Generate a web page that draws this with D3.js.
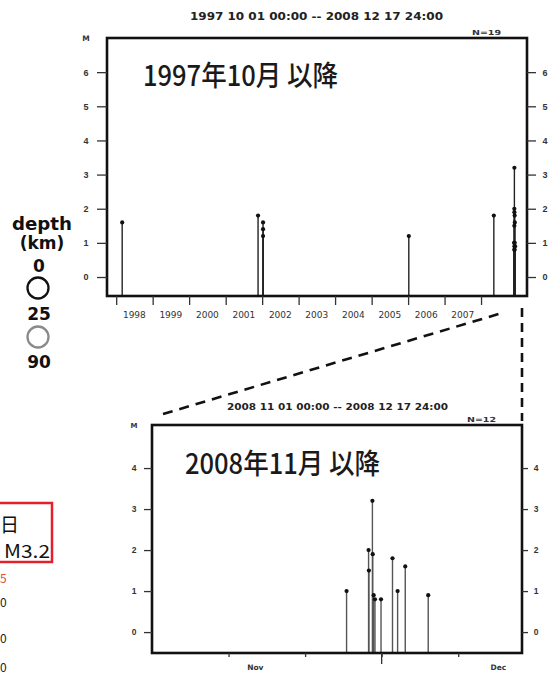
<!DOCTYPE html>
<html><head><meta charset="utf-8">
<script src="https://cdn.jsdelivr.net/npm/d3@7"></script>
<style>
html,body{margin:0;padding:0;background:#fff;}
svg{display:block;font-family:"DejaVu Sans",sans-serif;}
</style></head><body>
<svg id="chart" width="557" height="679"></svg>
<script>
/* M-T diagrams: events since 1997-10 (top) and the Nov-Dec 2008 swarm (bottom).
   Stems rise from the frame bottom to each event's magnitude. */
const earlyDates = ["1998-03-02 00:00","2001-11-21 00:00","2002-01-10 00:00","2002-01-10 00:00","2002-01-10 00:00","2006-01-08 00:00","2008-05-08 00:00"];
const earlyMags  = [1.6, 1.8, 1.6, 1.4, 1.2, 1.2, 1.8];
const swarmDates = ["2008-11-26 10:00","2008-11-29 07:00","2008-11-29 08:00","2008-11-29 19:00","2008-11-29 20:00","2008-11-29 23:00",
                    "2008-11-30 03:00","2008-11-30 22:00","2008-12-02 10:00","2008-12-03 02:00","2008-12-04 02:00","2008-12-07 02:00"];
const swarmMags  = [1.0, 2.0, 1.5, 3.2, 1.9, 0.9, 0.8, 0.8, 1.8, 1.0, 1.6, 0.9];
const yearTicks  = ["1998","1999","2000","2001","2002","2003","2004","2005","2006","2007","2008"];
const yearLabels = ["1998","1999","2000","2001","2002","2003","2004","2005","2006","2007"];
const topMagTicks   = [0,1,2,3,4,5,6];
const swarmMagTicks = [0,1,2,3,4];
const swarmDayTicks = ["2008-11-11 00:00","2008-11-21 00:00","2008-12-01 00:00","2008-12-11 00:00"];
const monthLabels   = ["Nov","Dec"];
const monthLabelAt  = ["2008-11-14 12:00","2008-12-16 06:00"];
const depthLabels   = ["0","25","90"];

const parse = d3.timeParse("%Y-%m-%d %H:%M");
const svg = d3.select("#chart");

const swarm = swarmDates.map((d,i) => ({date: parse(d), mag: swarmMags[i]}));
const allEvents = earlyDates.map((d,i) => ({date: parse(d), mag: earlyMags[i]})).concat(swarm);

function drawPanel(o){
  const g = svg.append("g");
  const [x0, x1] = o.x.range(), [yb, yt] = o.y.range();

  g.selectAll("line.stem").data(o.events).join("line")
    .attr("x1", d => o.x(d.date)).attr("x2", d => o.x(d.date))
    .attr("y1", yb).attr("y2", d => o.y(d.mag))
    .attr("stroke", o.stem).attr("stroke-width", 1.4);
  g.selectAll("circle.dot").data(o.events).join("circle")
    .attr("cx", d => o.x(d.date)).attr("cy", d => o.y(d.mag))
    .attr("r", 2.1).attr("fill", "#111");

  g.append("rect").attr("x", x0).attr("y", yt).attr("width", x1 - x0).attr("height", yb - yt)
    .attr("fill", "none").attr("stroke", "#111").attr("stroke-width", 2.6);

  const fmt = d3.format("d");
  const la = g.append("g").attr("transform", `translate(${x0},0)`)
    .call(d3.axisLeft(o.y).tickValues(o.magTicks).tickSize(o.lt[0]).tickPadding(o.lt[1]).tickFormat(fmt));
  const ra = g.append("g").attr("transform", `translate(${x1},0)`)
    .call(d3.axisRight(o.y).tickValues(o.magTicks).tickSize(o.rt[0]).tickPadding(o.rt[1]).tickFormat(fmt));
  [la, ra].forEach(a => {
    a.select(".domain").remove();
    a.selectAll("line").attr("stroke", "#333").attr("stroke-width", 1.3);
    a.selectAll("text").attr("font-size", o.fs).attr("font-weight", "bold").attr("fill", "#333")
      .attr("text-anchor", "middle").attr("x", function(){ return +d3.select(this).attr("x") + (a === la ? -3 : 3); });
  });
  g.append("text").attr("x", x0 - o.lt[0] - o.lt[1] - 3).attr("y", yt + 3).attr("text-anchor", "middle")
    .attr("font-size", o.fs - 1.5).attr("font-weight", "bold").attr("fill", "#333").text("M");

  const xa = g.append("g").attr("transform", `translate(0,${yb})`)
    .call(d3.axisBottom(o.x).tickValues(o.xTicks).tickSize(o.xTickLen).tickFormat(""));
  xa.select(".domain").remove();
  xa.selectAll("line").attr("stroke", "#333").attr("stroke-width", 1.3);

  // header: period and count
  g.append("text").attr("x", o.head[0]).attr("y", o.head[1]).attr("textLength", o.head[2]).attr("lengthAdjust", "spacingAndGlyphs")
    .attr("font-size", o.head[3]).attr("font-weight", "bold").attr("fill", "#222").text(o.period);
  g.append("text").attr("x", x1 - 55).attr("y", yt - 3).attr("textLength", 29).attr("lengthAdjust", "spacingAndGlyphs")
    .attr("font-size", 7).attr("font-weight", "bold").attr("fill", "#333").text("N=" + o.events.length);

  // big in-frame title
  g.append("text").attr("x", o.title[0]).attr("y", o.title[1]).attr("textLength", 195).attr("lengthAdjust", "spacingAndGlyphs")
    .attr("font-family", "'Noto Sans CJK JP',sans-serif").attr("font-size", 28).attr("font-weight", 500)
    .attr("fill", "#1a1a1a").text(o.titleText);
  return g;
}

// top panel: 1997-10 onward
const xTop = d3.scaleTime().domain([parse("1997-10-01 00:00"), parse("2009-04-05 00:00")]).range([107, 527]);
const yTop = d3.scaleLinear().domain([-0.556, 7.0]).range([296, 38]);
const topPanel = drawPanel({
  x: xTop, y: yTop, events: allEvents, stem: "#222", magTicks: topMagTicks,
  lt: [10, 8], rt: [9, 6], fs: 9, xTicks: yearTicks.map(y => parse(y + "-01-01 00:00")), xTickLen: 9,
  head: [190, 20, 253, 10], period: "1997 10 01 00:00 -- 2008 12 17 24:00",
  title: [143, 86], titleText: "1997年10月 以降"
});
topPanel.selectAll("text.yl").data(yearLabels).join("text")
  .attr("x", d => xTop(parse(d + "-07-02 00:00"))).attr("y", 318).attr("text-anchor", "middle")
  .attr("font-size", 9).attr("fill", "#333").text(d => d);

// bottom panel: 2008-11 onward
const xBot = d3.scaleTime().domain([parse("2008-11-01 00:00"), parse("2008-12-19 08:00")]).range([152, 522]);
const yBot = d3.scaleLinear().domain([-0.51, 5.05]).range([653, 425]);
const botPanel = drawPanel({
  x: xBot, y: yBot, events: swarm, stem: "#555", magTicks: swarmMagTicks,
  lt: [8, 7], rt: [6, 5], fs: 8.5, xTicks: swarmDayTicks.map(parse), xTickLen: 4,
  head: [227, 410, 221, 9], period: "2008 11 01 00:00 -- 2008 12 17 24:00",
  title: [185, 474], titleText: "2008年11月 以降"
});
botPanel.append("line").attr("x1", xBot(parse("2008-12-01 00:00"))).attr("x2", xBot(parse("2008-12-01 00:00")))
  .attr("y1", 653).attr("y2", 664).attr("stroke", "#333").attr("stroke-width", 1.3);
botPanel.selectAll("text.ml").data(monthLabels).join("text")
  .attr("x", (d,i) => xBot(parse(monthLabelAt[i]))).attr("y", 670).attr("text-anchor", "middle")
  .attr("font-size", 7.5).attr("font-weight", "bold").attr("fill", "#333").text(d => d);

// zoom connectors
svg.append("line").attr("x1", 163).attr("y1", 414).attr("x2", 502).attr("y2", 313)
  .attr("stroke", "#111").attr("stroke-width", 2.6).attr("stroke-dasharray", "10,7");
svg.append("line").attr("x1", 522).attr("y1", 308).attr("x2", 522).attr("y2", 421)
  .attr("stroke", "#111").attr("stroke-width", 2.6).attr("stroke-dasharray", "9,6");

// depth legend
const leg = svg.append("g").attr("font-weight", "bold").attr("font-size", 17).attr("text-anchor", "middle").attr("fill", "#111");
leg.append("text").attr("x", 42).attr("y", 230).attr("textLength", 60).attr("lengthAdjust", "spacingAndGlyphs").text("depth");
leg.append("text").attr("x", 42).attr("y", 249).text("(km)");
leg.selectAll("text.dl").data(depthLabels).join("text")
  .attr("x", 39).attr("y", (d,i) => 272 + i * 48).text(d => d);
leg.selectAll("circle").data(["#111","#8a8a8a"]).join("circle")
  .attr("cx", 38).attr("cy", (d,i) => 288 + i * 49).attr("r", 10.5)
  .attr("fill", "none").attr("stroke", d => d).attr("stroke-width", 2.3);

// fragment of the neighbouring annotation at the left edge
svg.append("rect").attr("x", -2).attr("y", 503).attr("width", 54).attr("height", 59)
  .attr("fill", "none").attr("stroke", "#e3202c").attr("stroke-width", 2.5);
const frag = svg.append("g").attr("font-family", "'Noto Sans CJK JP',sans-serif").attr("fill", "#111");
frag.append("text").attr("x", 0).attr("y", 532).attr("font-size", 19).text("日");
frag.append("text").attr("x", 4).attr("y", 558).attr("font-size", 18).attr("textLength", 46).attr("lengthAdjust", "spacingAndGlyphs").text("M3.2");
frag.append("text").attr("x", 0).attr("y", 583).attr("font-size", 12).attr("fill", "#e0502a").text("5");
frag.selectAll("text.z").data([607, 643, 672]).join("text")
  .attr("x", 0).attr("y", d => d).attr("font-size", 12).attr("fill", "#222").text("0");
</script>
</body></html>
